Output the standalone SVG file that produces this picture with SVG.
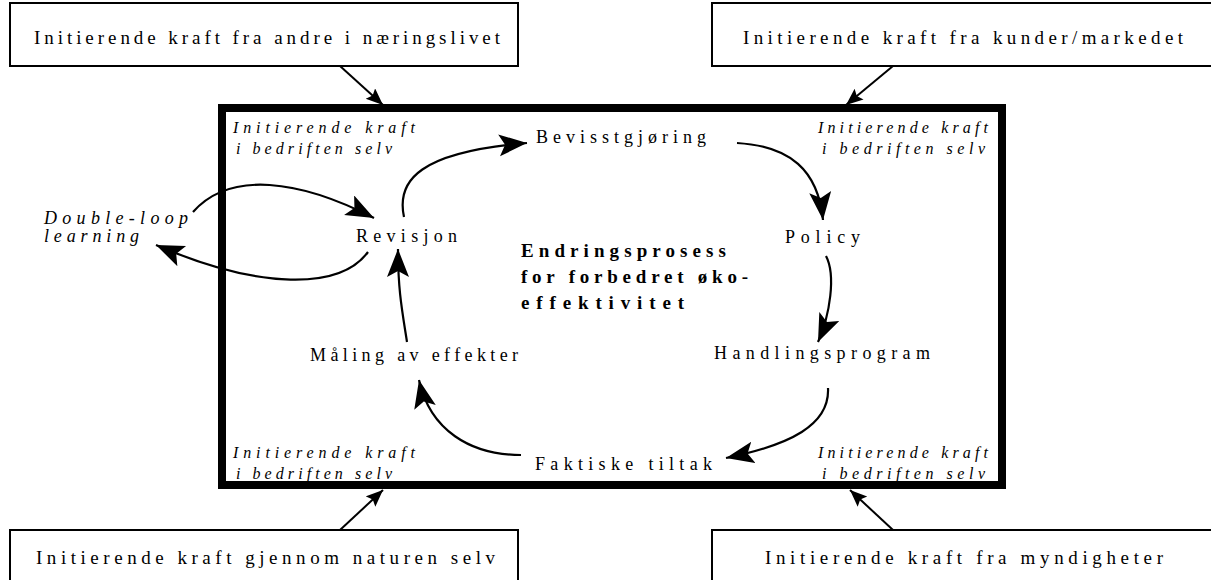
<svg xmlns="http://www.w3.org/2000/svg" width="1211" height="580" viewBox="0 0 1211 580">
  <style>
    .box { fill: #fff; stroke: #000; stroke-width: 2; }
    .frame { fill: none; stroke: #000; stroke-width: 8; }
    .lbl { font-family: "Liberation Serif", "Times New Roman", serif; font-size: 19px; fill: #000; }
    .step { font-family: "Liberation Serif", "Times New Roman", serif; font-size: 18px; fill: #000; }
    .ital { font-family: "Liberation Serif", "Times New Roman", serif; font-size: 16px; font-style: italic; fill: #000; }
    .dl { font-family: "Liberation Serif", "Times New Roman", serif; font-size: 18px; font-style: italic; fill: #000; }
    .title { font-family: "Liberation Serif", "Times New Roman", serif; font-size: 19px; font-weight: bold; fill: #000; }
    .flow { fill: none; stroke: #000; stroke-width: 2.2; }
    .push { fill: none; stroke: #000; stroke-width: 2; }
  </style>
  <defs>
    <marker id="bighead" markerUnits="userSpaceOnUse" markerWidth="30" markerHeight="24" refX="28" refY="11" orient="auto">
      <path d="M0,0 L28,11 L0,22 L6,11 z" fill="#000"/>
    </marker>
    <marker id="smallhead" markerUnits="userSpaceOnUse" markerWidth="18" markerHeight="16" refX="17" refY="7" orient="auto">
      <path d="M0,0 L17,7 L0,14 L3,7 z" fill="#000"/>
    </marker>
  </defs>

  <rect width="1211" height="580" fill="#fff"/>

  <!-- central change-process frame -->
  <g id="frame">
    <rect class="frame" x="222" y="108" width="780" height="377"/>
    <text class="ital" x="233" y="133" textLength="182">Initierende kraft</text>
    <text class="ital" x="236" y="154" textLength="156">i bedriften selv</text>
    <text class="ital" x="818" y="133" textLength="170">Initierende kraft</text>
    <text class="ital" x="822" y="154" textLength="163">i bedriften selv</text>
    <text class="ital" x="233" y="458" textLength="182">Initierende kraft</text>
    <text class="ital" x="236" y="479" textLength="156">i bedriften selv</text>
    <text class="ital" x="818" y="458" textLength="170">Initierende kraft</text>
    <text class="ital" x="822" y="479" textLength="163">i bedriften selv</text>
  </g>

  <!-- external driving forces -->
  <g id="force-business">
    <rect class="box" x="10" y="3" width="508" height="63"/>
    <text class="lbl" x="34" y="44" textLength="466">Initierende kraft fra andre i næringslivet</text>
  </g>
  <g id="force-customers">
    <rect class="box" x="712" y="3" width="520" height="63"/>
    <text class="lbl" x="743" y="44" textLength="440">Initierende kraft fra kunder/markedet</text>
  </g>
  <g id="force-nature">
    <rect class="box" x="10" y="530" width="508" height="80"/>
    <text class="lbl" x="36" y="564" textLength="459">Initierende kraft gjennom naturen selv</text>
  </g>
  <g id="force-authorities">
    <rect class="box" x="712" y="530" width="520" height="80"/>
    <text class="lbl" x="765" y="564" textLength="398">Initierende kraft fra myndigheter</text>
  </g>

  <!-- process steps -->
  <g id="step-awareness"><text class="step" x="536" y="143" textLength="170">Bevisstgjøring</text></g>
  <g id="step-policy"><text class="step" x="785" y="243" textLength="75">Policy</text></g>
  <g id="step-programme"><text class="step" x="714" y="359" textLength="216">Handlingsprogram</text></g>
  <g id="step-actions"><text class="step" x="535" y="470" textLength="177">Faktiske tiltak</text></g>
  <g id="step-measuring"><text class="step" x="310" y="361" textLength="208">Måling av effekter</text></g>
  <g id="step-revision"><text class="step" x="356" y="242" textLength="101">Revisjon</text></g>
  <g id="double-loop">
    <text class="dl" x="44" y="224" textLength="144">Double-loop</text>
    <text class="dl" x="44" y="242" textLength="95">learning</text>
  </g>
  <g id="title">
    <text class="title" x="521" y="257" textLength="205">Endringsprosess</text>
    <text class="title" x="521" y="283" textLength="227">for forbedret øko-</text>
    <text class="title" x="521" y="309" textLength="163">effektivitet</text>
  </g>

  <!-- connectors -->
  <g id="connectors">
    <path class="push" d="M340,66 L383,105" marker-end="url(#smallhead)"/>
    <path class="push" d="M893,66 L846,105" marker-end="url(#smallhead)"/>
    <path class="push" d="M340,530 L383,490" marker-end="url(#smallhead)"/>
    <path class="push" d="M893,530 L850,490" marker-end="url(#smallhead)"/>

    <path class="flow" d="M404,217 C396,180 420,152 527,143" marker-end="url(#bighead)"/>
    <path class="flow" d="M737,143 C790,146 818,170 823,220" marker-end="url(#bighead)"/>
    <path class="flow" d="M826,256 C836,275 830,315 818,342" marker-end="url(#bighead)"/>
    <path class="flow" d="M828,388 C830,425 790,445 726,458" marker-end="url(#bighead)"/>
    <path class="flow" d="M521,455 C470,455 430,430 419,380" marker-end="url(#bighead)"/>
    <path class="flow" d="M407,342 C402,310 398,290 398,249" marker-end="url(#bighead)"/>
    <path class="flow" d="M193,212 C230,170 300,180 374,218" marker-end="url(#bighead)"/>
    <path class="flow" d="M368,252 C340,290 260,290 156,245" marker-end="url(#bighead)"/>
  </g>
</svg>
